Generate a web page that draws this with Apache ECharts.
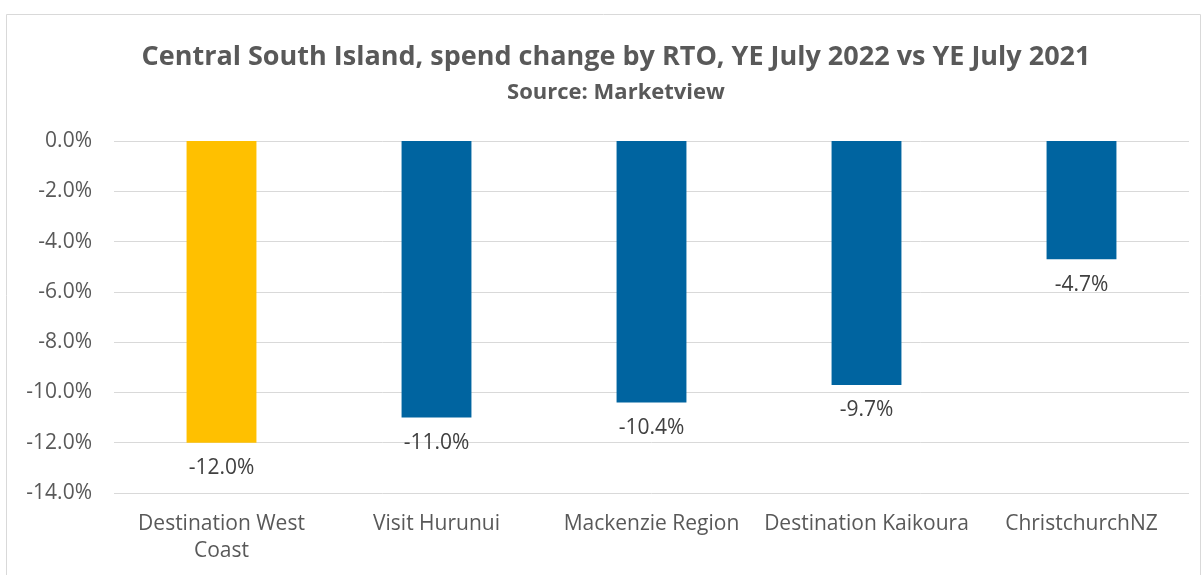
<!DOCTYPE html>
<html>
<head>
<meta charset="utf-8">
<script src="https://cdn.jsdelivr.net/npm/echarts@6/dist/echarts.min.js"></script>
<style>
  html, body { margin: 0; padding: 0; background: #fff; }
  #chart { width: 1203px; height: 575px; }
</style>
</head>
<body>
<div id="chart"></div>
<script>
// categories and values
const categories = ['Destination West\nCoast', 'Visit Hurunui', 'Mackenzie Region', 'Destination Kaikoura', 'ChristchurchNZ']
const spendChange = [-12.0, -11.0, -10.4, -9.7, -4.7]
const barColors = ['#FFC000', '#0064A0', '#0064A0', '#0064A0', '#0064A0']

const fontFamily = '"Open Sans", "Noto Sans", sans-serif'
const textColor = '#595959'

let myChart = echarts.init(document.getElementById('chart'))

myChart.setOption({
  animation: false,
  textStyle: { fontFamily },
  title: {
    text: 'Central South Island, spend change by RTO, YE July 2022 vs YE July 2021',
    subtext: 'Source: Marketview',
    left: 611,
    textAlign: 'center',
    top: 35,
    itemGap: 6,
    textStyle: { fontSize: 27, fontWeight: 'bold', color: textColor, fontFamily, lineHeight: 34 },
    subtextStyle: { fontSize: 22, fontWeight: 'bold', color: textColor, fontFamily, lineHeight: 26 }
  },
  graphic: [{
    type: 'rect',
    shape: { x: 6.5, y: 14.5, width: 1194, height: 570 },
    style: { fill: 'none', stroke: '#d9d9d9', lineWidth: 1 },
    silent: true
  }],
  grid: { left: 114, right: 14, top: 141, bottom: 82 },
  xAxis: {
    type: 'category',
    data: categories,
    position: 'bottom',
    axisLine: { show: false },
    axisTick: { show: false },
    axisLabel: {
      color: textColor, fontSize: 21, margin: 18, lineHeight: 27, fontFamily,
      interval: 0
    }
  },
  yAxis: {
    type: 'value',
    min: -14,
    max: 0,
    interval: 2,
    axisLine: { show: false },
    axisTick: { show: false },
    splitLine: { lineStyle: { color: '#d9d9d9', width: 1 } },
    axisLabel: {
      color: textColor, fontSize: 21, margin: 22, fontFamily,
      formatter: v => v.toFixed(1) + '%'
    }
  },
  series: [{
    type: 'bar',
    barWidth: '32.5%',
    data: spendChange.map((v, i) => ({ value: v, itemStyle: { color: barColors[i] } })),
    label: {
      show: true,
      position: 'bottom',
      distance: 15,
      color: '#404040',
      fontSize: 21,
      fontFamily,
      formatter: p => p.value.toFixed(1) + '%'
    }
  }]
})

window.onresize = function () {
  myChart.resize()
}
</script>
</body>
</html>
